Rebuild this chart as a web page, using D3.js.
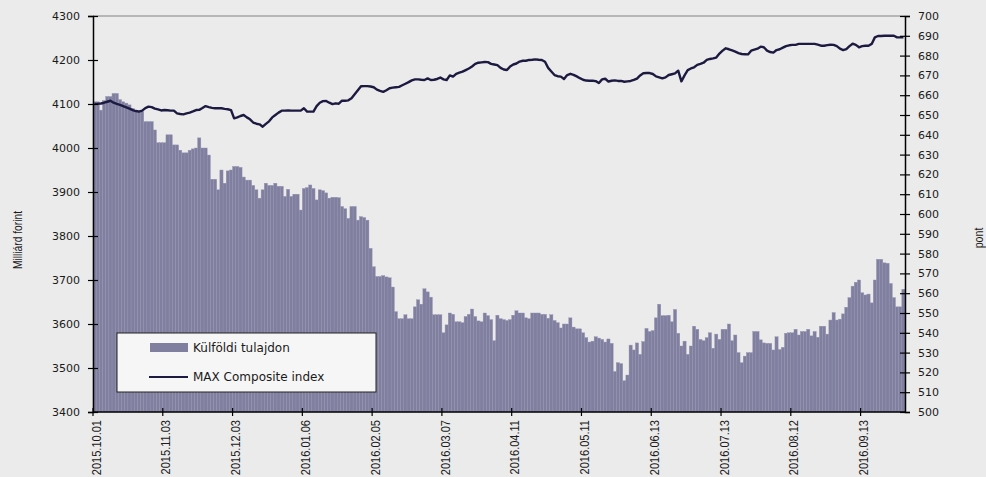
<!DOCTYPE html>
<html>
<head>
<meta charset="utf-8">
<script src="https://cdn.jsdelivr.net/npm/d3@7"></script>
<style>
  body { margin: 0; background: #ebebeb; }
  svg { display: block; }
  .tick-label { font-family: "DejaVu Sans", Verdana, sans-serif; font-size: 11px; fill: #1a1a1a; }
  .date-label { font-family: "Liberation Sans Narrow", "Arial Narrow", "Liberation Sans", sans-serif; font-size: 13px; fill: #1a1a1a; }
  .axis-title { font-family: "Liberation Sans Narrow", "Arial Narrow", "Liberation Sans", sans-serif; font-size: 12.5px; fill: #1a1a1a; }
  .legend-text { font-family: "DejaVu Sans", Verdana, sans-serif; font-size: 12px; fill: #1a1a1a; }
</style>
</head>
<body>
<svg width="986" height="477"></svg>
<script>
// Labelled trading days (every 22nd bar)
const dateLabels = ["2015.10.01", "2015.11.03", "2015.12.03", "2016.01.06", "2016.02.05", "2016.03.07",
    "2016.04.11", "2016.05.11", "2016.06.13", "2016.07.13", "2016.08.12", "2016.09.13"];
const labelStep = 22;

// Külföldi tulajdon (milliárd forint), one value per trading day
const foreignHolding = [
    4105, 4105, 4086, 4108, 4117, 4117, 4124, 4124, 4110, 4105,
    4102, 4098, 4090, 4085, 4085, 4083, 4060, 4060, 4060, 4041,
    4012, 4012, 4012, 4030, 4030, 4007, 4007, 3995, 3989, 3989,
    3995, 3998, 4000, 4023, 4000, 4000, 3984, 3929, 3929, 3905,
    3950, 3920, 3948, 3950, 3958, 3958, 3956, 3934, 3927, 3927,
    3915, 3905, 3886, 3905, 3920, 3915, 3915, 3920, 3913, 3913,
    3890, 3906, 3890, 3895, 3895, 3859, 3908, 3910, 3916, 3908,
    3882, 3905, 3903, 3898, 3886, 3888, 3888, 3887, 3867, 3862,
    3840, 3867, 3867, 3836, 3844, 3842, 3836, 3772, 3730, 3708,
    3708, 3710, 3707, 3705, 3684, 3628, 3612, 3612, 3621, 3612,
    3612, 3639, 3655, 3645, 3680, 3673, 3661, 3621, 3621, 3621,
    3580, 3598, 3625, 3622, 3605, 3605, 3603, 3617, 3622, 3634,
    3617, 3607, 3605, 3625, 3619, 3610, 3562, 3620, 3612, 3610,
    3608, 3610, 3620, 3630, 3625, 3625, 3614, 3612, 3625, 3625,
    3625, 3622, 3622, 3613, 3621, 3608, 3603, 3591, 3600, 3600,
    3614, 3593, 3589, 3589, 3580, 3569, 3559, 3561, 3571, 3568,
    3565, 3559, 3566, 3556, 3492, 3512, 3510, 3471, 3484, 3552,
    3541, 3557, 3531, 3560, 3590, 3583, 3585, 3614, 3645, 3619,
    3619, 3620, 3605, 3633, 3579, 3550, 3561, 3531, 3550, 3595,
    3588, 3565, 3562, 3569, 3580, 3545, 3577, 3565, 3588, 3588,
    3600, 3562, 3575, 3535, 3512, 3527, 3535, 3535, 3583, 3583,
    3564, 3557, 3556, 3556, 3541, 3571, 3542, 3547, 3579, 3580,
    3580, 3588, 3575, 3583, 3583, 3588, 3573, 3583, 3570, 3595,
    3595, 3577, 3609, 3626, 3609, 3611, 3623, 3638, 3660, 3686,
    3695, 3700, 3671, 3666, 3668, 3648, 3700, 3747, 3747, 3739,
    3738, 3692, 3660, 3639, 3639, 3679
];

// MAX Composite index (pont)
const maxIndex = [
    655.6, 655.6, 655.8, 656.2, 656.7, 657.2, 656.2, 655.6, 655.1, 654.5,
    653.9, 653.2, 652.5, 652.0, 651.7, 652.2, 653.5, 654.2, 654.0, 653.2,
    652.8, 652.3, 652.5, 652.4, 652.2, 652.2, 650.8, 650.5, 650.3, 650.8,
    651.2, 651.8, 652.5, 652.6, 653.5, 654.5, 654.0, 653.6, 653.4, 653.4,
    653.4, 653.1, 652.9, 652.5, 648.3, 648.8, 649.5, 650.0, 648.8, 647.8,
    646.2, 645.6, 645.3, 644.1, 645.5, 646.8, 648.8, 650.0, 651.2, 652.2,
    652.2, 652.3, 652.2, 652.2, 652.2, 652.2, 653.4, 651.7, 651.7, 651.7,
    654.5, 656.2, 657.0, 657.1, 656.2, 655.5, 655.9, 655.7, 657.2, 657.2,
    657.4, 658.5, 660.5, 662.5, 664.5, 664.6, 664.6, 664.4, 664.0, 662.8,
    662.2, 661.7, 662.5, 663.5, 663.8, 664.0, 664.2, 665.0, 665.8, 666.6,
    667.5, 668.0, 668.0, 667.8, 667.7, 668.5, 667.7, 667.8, 668.2, 668.9,
    668.0, 667.7, 670.0, 669.4, 670.8, 671.4, 671.9, 672.7, 673.5, 674.5,
    675.8, 676.4, 676.6, 676.8, 676.7, 675.8, 675.5, 675.2, 673.8, 673.0,
    672.7, 674.5, 675.5, 676.0, 677.0, 677.4, 677.4, 677.8, 677.9, 678.1,
    677.9, 677.8, 676.9, 673.8, 672.0, 670.2, 669.6, 669.4, 668.2, 670.2,
    670.8, 670.3, 669.5, 668.6, 667.8, 667.4, 667.3, 667.3, 667.1, 666.2,
    668.0, 668.3, 666.9, 667.3, 667.5, 667.2, 667.2, 666.8, 667.0, 667.2,
    667.7, 668.4, 670.0, 671.1, 671.2, 671.2, 670.7, 669.5, 669.0, 668.5,
    669.0, 670.2, 670.6, 671.0, 672.4, 667.0, 670.0, 672.7, 673.5, 674.1,
    675.3, 675.8, 676.4, 677.8, 678.3, 678.6, 679.0, 681.0, 682.5, 683.7,
    683.2, 682.6, 682.0, 681.3, 680.8, 680.7, 680.6, 682.5, 683.0, 683.5,
    684.5, 684.2, 682.5, 681.8, 681.5, 682.8, 683.2, 684.0, 684.8, 685.2,
    685.4, 685.4, 685.9, 685.9, 685.9, 685.9, 685.9, 685.9, 685.5, 685.0,
    685.0, 685.3, 685.5, 685.4, 684.8, 683.5, 682.8, 683.3, 684.8, 686.0,
    685.4, 684.2, 684.8, 685.0, 685.0, 685.9, 689.2, 689.9, 689.9, 690.0,
    690.0, 690.0, 690.0, 689.2, 689.2, 689.2
];

const leftTicks = d3.range(3400, 4301, 100);
const rightTicks = d3.range(500, 701, 10);
const seriesNames = ["Külföldi tulajdon", "MAX Composite index"];

const barColor = "#807fa0";
const lineColor = "#1c1a40";

const margin = { top: 16, right: 81, bottom: 65, left: 93 };
const svg = d3.select("svg");
const svgWidth = +svg.attr("width"), svgHeight = +svg.attr("height");
const x0 = margin.left, x1 = svgWidth - margin.right;
const y0 = svgHeight - margin.bottom, y1 = margin.top;

const x = d3.scaleBand()
    .domain(d3.range(foreignHolding.length))
    .range([x0, x1])
    .padding(0);

const yLeft = d3.scaleLinear().domain([3400, 4300]).range([y0, y1]);
const yRight = d3.scaleLinear().domain([500, 700]).range([y0, y1]);

// top frame line
svg.append("line")
    .attr("x1", x0).attr("x2", x1)
    .attr("y1", y1).attr("y2", y1)
    .attr("stroke", "#a5a5a5")
    .attr("stroke-width", 1.5);

// bars
svg.append("g")
    .selectAll("rect")
    .data(foreignHolding)
    .enter().append("rect")
    .attr("x", (d, i) => x(i))
    .attr("y", d => yLeft(d))
    .attr("width", x.bandwidth())
    .attr("height", d => y0 - yLeft(d))
    .attr("fill", barColor)
    .attr("stroke", "#9393b0")
    .attr("stroke-width", 0.4);

// index line
const line = d3.line()
    .x((d, i) => x(i) + x.bandwidth() / 2)
    .y(d => yRight(d));

svg.append("path")
    .datum(maxIndex)
    .attr("d", line)
    .attr("fill", "none")
    .attr("stroke", lineColor)
    .attr("stroke-width", 2.4)
    .attr("stroke-linejoin", "round");

// left axis (ticks cross the axis line)
const leftAxis = svg.append("g")
    .attr("transform", `translate(${x0},0)`)
    .call(d3.axisLeft(yLeft).tickValues(leftTicks).tickSize(5).tickPadding(8).tickFormat(d3.format("d")));
leftAxis.select(".domain").attr("stroke", "#000").attr("stroke-width", 1.5);
leftAxis.selectAll(".tick line").attr("x1", 5).attr("stroke", "#000").attr("stroke-width", 1.2);
leftAxis.selectAll(".tick text").attr("class", "tick-label").attr("font-family", null).attr("font-size", null).attr("fill", null);

// right axis
const rightAxis = svg.append("g")
    .attr("transform", `translate(${x1},0)`)
    .call(d3.axisRight(yRight).tickValues(rightTicks).tickSize(5).tickPadding(8).tickFormat(d3.format("d")));
rightAxis.select(".domain").attr("stroke", "#000").attr("stroke-width", 1.5);
rightAxis.selectAll(".tick line").attr("x1", -5).attr("stroke", "#000").attr("stroke-width", 1.2);
rightAxis.selectAll(".tick text").attr("class", "tick-label").attr("font-family", null).attr("font-size", null).attr("fill", null);

// bottom category axis
svg.append("line")
    .attr("x1", x0).attr("x2", x1)
    .attr("y1", y0).attr("y2", y0)
    .attr("stroke", "#000")
    .attr("stroke-width", 1.5);

const labelIdx = dateLabels.map((d, k) => k * labelStep);

svg.append("g")
    .selectAll("line")
    .data(labelIdx)
    .enter().append("line")
    .attr("x1", d => x(d)).attr("x2", d => x(d))
    .attr("y1", y0 - 4).attr("y2", y0 + 4)
    .attr("stroke", "#000")
    .attr("stroke-width", 1.2);

// narrow look: squeeze the rotated labels along their length
svg.append("g")
    .selectAll("text")
    .data(dateLabels)
    .enter().append("text")
    .attr("class", "date-label")
    .attr("transform", (d, k) => `translate(${x(labelIdx[k]) + x.bandwidth() / 2 + 1.5},${y0 + 8}) rotate(-90) scale(0.85,1)`)
    .attr("text-anchor", "end")
    .attr("dy", "0.35em")
    .text(d => d);

// axis titles
svg.append("text")
    .attr("class", "axis-title")
    .attr("transform", `translate(18,${(y0 + y1) / 2 + 26}) rotate(-90) scale(0.82,1)`)
    .attr("text-anchor", "middle")
    .attr("dy", "0.35em")
    .text("Milliárd forint");

svg.append("text")
    .attr("class", "axis-title")
    .attr("transform", `translate(979,${(y0 + y1) / 2 + 24}) rotate(-90) scale(0.85,1)`)
    .attr("text-anchor", "middle")
    .attr("dy", "0.35em")
    .text("pont");

// legend
const legend = svg.append("g").attr("transform", "translate(117,333)");
legend.append("rect")
    .attr("width", 259).attr("height", 59)
    .attr("fill", "#f6f6f6")
    .attr("stroke", "#222")
    .attr("stroke-width", 1);
legend.append("rect")
    .attr("x", 33).attr("y", 10)
    .attr("width", 38).attr("height", 9)
    .attr("fill", barColor);
legend.append("line")
    .attr("x1", 32).attr("x2", 71)
    .attr("y1", 44).attr("y2", 44)
    .attr("stroke", lineColor)
    .attr("stroke-width", 2);
legend.selectAll("text.legend-text")
    .data(seriesNames)
    .enter().append("text")
    .attr("class", "legend-text")
    .attr("x", 76)
    .attr("y", (d, i) => i === 0 ? 15 : 44)
    .attr("dy", "0.35em")
    .text(d => d);
</script>
</body>
</html>
